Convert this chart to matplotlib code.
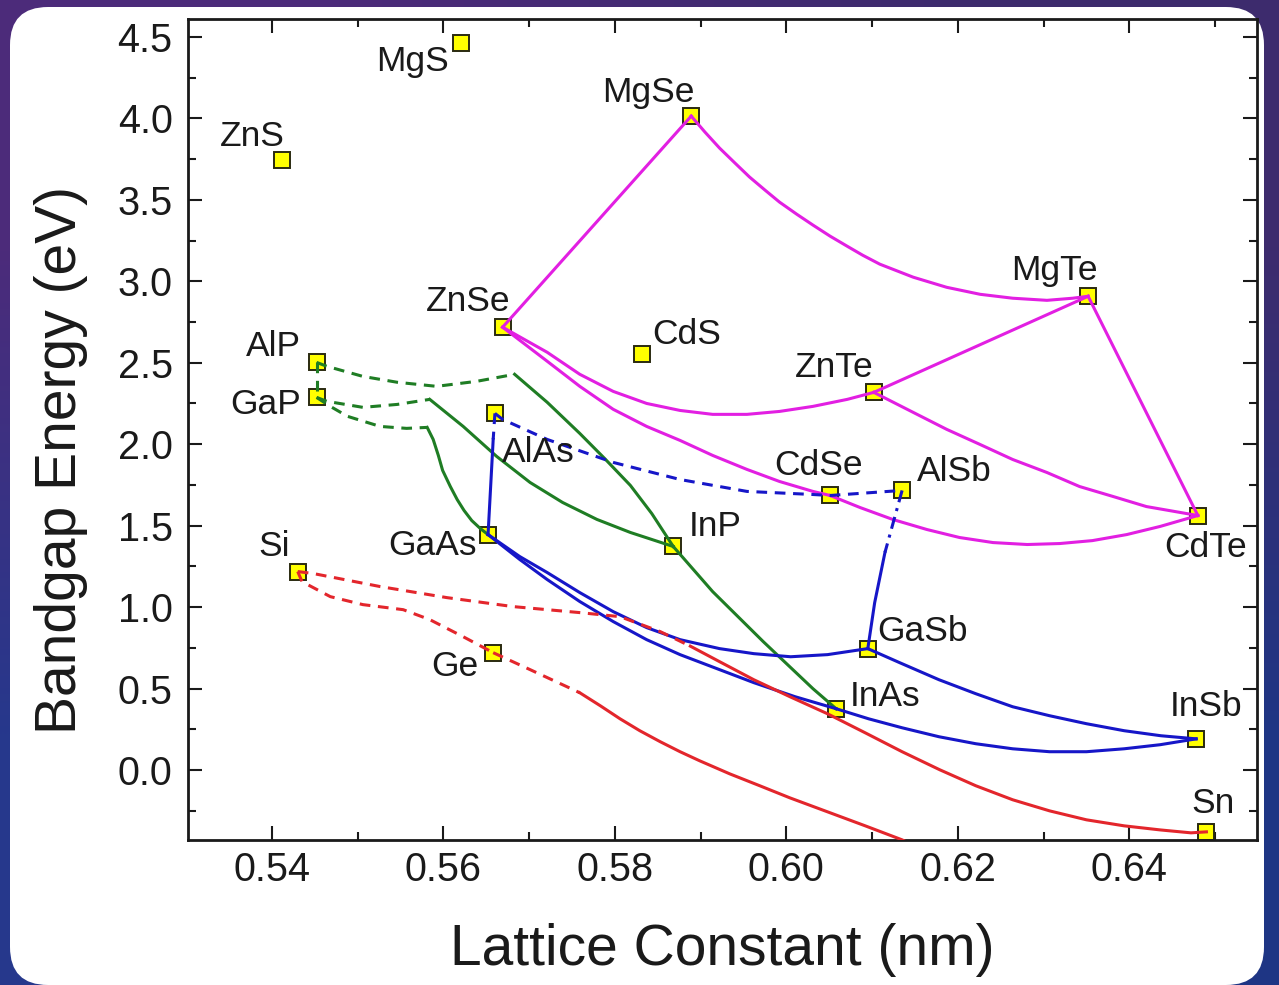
import matplotlib.pyplot as plt
import numpy as np
from matplotlib.patches import FancyBboxPatch
from matplotlib.ticker import MultipleLocator

plt.rcParams['font.family'] = ['Liberation Sans', 'DejaVu Sans']

# compounds: lattice constant (nm) and bandgap (eV)
names = ['ZnS', 'MgS', 'MgSe', 'ZnSe', 'CdS', 'MgTe', 'ZnTe', 'CdSe', 'AlSb', 'CdTe',
         'AlP', 'GaP', 'AlAs', 'GaAs', 'InP', 'Si', 'Ge', 'GaSb', 'InAs', 'InSb', 'Sn']
lattice = [0.5412, 0.5620, 0.5889, 0.5669, 0.5832, 0.6352, 0.6102, 0.6051, 0.6135, 0.6480,
           0.5452, 0.5452, 0.5660, 0.5652, 0.5868, 0.5430, 0.5658, 0.6095, 0.6058, 0.6478, 0.6490]
bandgap = [3.744, 4.463, 4.014, 2.718, 2.552, 2.908, 2.318, 1.685, 1.716, 1.562,
           2.502, 2.287, 2.189, 1.445, 1.372, 1.218, 0.720, 0.745, 0.376, 0.191, -0.380]

# II-VI alloys (magenta)
znse_mgse_x = [0.5669, 0.5889]
znse_mgse_y = [2.718, 4.014]
mgse_mgte_x = [0.5889, 0.5905, 0.5922, 0.5940, 0.5957, 0.5975, 0.5992, 0.6012, 0.6031, 0.6051,
               0.6071, 0.6089, 0.6109, 0.6148, 0.6187, 0.6226, 0.6264, 0.6304, 0.6334, 0.6352]
mgse_mgte_y = [4.014, 3.916, 3.818, 3.726, 3.640, 3.560, 3.486, 3.412, 3.345, 3.277,
               3.215, 3.160, 3.105, 3.025, 2.963, 2.920, 2.896, 2.883, 2.896, 2.908]
znse_znte_x = [0.5669, 0.5721, 0.5759, 0.5798, 0.5837, 0.5876, 0.5914, 0.5954, 0.5992, 0.6031, 0.6071, 0.6102]
znse_znte_y = [2.718, 2.564, 2.429, 2.324, 2.250, 2.207, 2.183, 2.183, 2.201, 2.232, 2.275, 2.318]
znse_cdse_x = [0.5669, 0.5721, 0.5759, 0.5798, 0.5837, 0.5876, 0.5914, 0.5954, 0.5992, 0.6031, 0.6051]
znse_cdse_y = [2.718, 2.509, 2.355, 2.214, 2.109, 2.023, 1.931, 1.845, 1.771, 1.710, 1.685]
cdse_cdte_x = [0.6051, 0.6086, 0.6124, 0.6164, 0.6202, 0.6241, 0.6281, 0.6319, 0.6357, 0.6397, 0.6436, 0.6480]
cdse_cdte_y = [1.685, 1.611, 1.538, 1.476, 1.427, 1.396, 1.384, 1.390, 1.408, 1.445, 1.495, 1.562]
znte_cdte_x = [0.6102, 0.6148, 0.6187, 0.6226, 0.6264, 0.6304, 0.6342, 0.6381, 0.6420, 0.6480]
znte_cdte_y = [2.318, 2.195, 2.091, 1.998, 1.906, 1.826, 1.740, 1.679, 1.617, 1.562]
znte_mgte_x = [0.6102, 0.6352]
znte_mgte_y = [2.318, 2.908]
mgte_cdte_x = [0.6352, 0.6480]
mgte_cdte_y = [2.908, 1.562]

# phosphides (green)
alp_gap_x = [0.5452, 0.5452]
alp_gap_y = [2.502, 2.287]
alp_inp_dash_x = [0.5452, 0.5464, 0.5506, 0.5546, 0.5592, 0.5639, 0.5683]
alp_inp_dash_y = [2.502, 2.478, 2.416, 2.380, 2.355, 2.386, 2.429]
alp_inp_x = [0.5683, 0.5721, 0.5759, 0.5788, 0.5818, 0.5843, 0.5868]
alp_inp_y = [2.429, 2.257, 2.066, 1.912, 1.747, 1.574, 1.372]
gap_inp_dash_x = [0.5452, 0.5464, 0.5506, 0.5546, 0.5584]
gap_inp_dash_y = [2.287, 2.263, 2.226, 2.244, 2.275]
gap_inp_x = [0.5584, 0.5623, 0.5662, 0.5701, 0.5739, 0.5779, 0.5818, 0.5868]
gap_inp_y = [2.275, 2.109, 1.925, 1.765, 1.642, 1.538, 1.458, 1.372]
gap_gaas_dash_x = [0.5452, 0.5468, 0.5488, 0.5526, 0.5557, 0.5581]
gap_gaas_dash_y = [2.287, 2.232, 2.171, 2.109, 2.097, 2.103]
gap_gaas_x = [0.5581, 0.5588, 0.5594, 0.5599, 0.5608, 0.5616, 0.5624, 0.5633, 0.5643, 0.5652]
gap_gaas_y = [2.103, 2.029, 1.931, 1.839, 1.740, 1.660, 1.593, 1.531, 1.482, 1.445]
inp_inas_x = [0.5868, 0.5914, 0.5973, 0.6031, 0.6058]
inp_inas_y = [1.372, 1.095, 0.788, 0.499, 0.376]

# arsenides / antimonides (blue)
alas_gaas_dash_x = [0.5660, 0.5658]
alas_gaas_dash_y = [2.189, 2.029]
alas_gaas_x = [0.5658, 0.5652]
alas_gaas_y = [2.029, 1.445]
alas_alsb_x = [0.5660, 0.5669, 0.5721, 0.5798, 0.5876, 0.5954, 0.6031, 0.6051, 0.6135]
alas_alsb_y = [2.189, 2.152, 2.029, 1.888, 1.783, 1.710, 1.691, 1.685, 1.716]
alsb_gasb_dd_x = [0.6135, 0.6115]
alsb_gasb_dd_y = [1.716, 1.335]
alsb_gasb_x = [0.6115, 0.6103, 0.6095]
alsb_gasb_y = [1.335, 1.027, 0.745]
gaas_gasb_x = [0.5652, 0.5689, 0.5721, 0.5759, 0.5798, 0.5837, 0.5876, 0.5922, 0.5962, 0.6005, 0.6048, 0.6095]
gaas_gasb_y = [1.445, 1.310, 1.212, 1.089, 0.972, 0.874, 0.800, 0.745, 0.714, 0.695, 0.708, 0.745]
gaas_inas_x = [0.5652, 0.5689, 0.5721, 0.5759, 0.5798, 0.5837, 0.5876, 0.5922, 0.5962, 0.6010, 0.6058]
gaas_inas_y = [1.445, 1.292, 1.169, 1.034, 0.911, 0.800, 0.708, 0.616, 0.536, 0.450, 0.376]
gasb_insb_x = [0.6095, 0.6132, 0.6178, 0.6221, 0.6264, 0.6307, 0.6350, 0.6394, 0.6437, 0.6478]
gasb_insb_y = [0.745, 0.659, 0.554, 0.468, 0.388, 0.333, 0.284, 0.241, 0.210, 0.191]
inas_insb_x = [0.6058, 0.6096, 0.6135, 0.6178, 0.6221, 0.6264, 0.6307, 0.6350, 0.6394, 0.6436, 0.6478]
inas_insb_y = [0.376, 0.314, 0.259, 0.204, 0.161, 0.130, 0.112, 0.112, 0.130, 0.155, 0.191]

# group IV (red)
si_sn_dash_x = [0.5430, 0.5448, 0.5526, 0.5604, 0.5681, 0.5759, 0.5806, 0.5853, 0.5888]
si_sn_dash_y = [1.218, 1.206, 1.126, 1.058, 1.003, 0.966, 0.941, 0.849, 0.760]
si_sn_x = [0.5888, 0.5922, 0.5962, 0.6004, 0.6048, 0.6092, 0.6135, 0.6179, 0.6221, 0.6264,
           0.6307, 0.6350, 0.6394, 0.6436, 0.6472, 0.6490]
si_sn_y = [0.760, 0.665, 0.554, 0.450, 0.345, 0.228, 0.112, 0.001, -0.097, -0.183,
           -0.251, -0.306, -0.343, -0.368, -0.386, -0.380]
si_ge_x = [0.5430, 0.5435, 0.5468, 0.5506, 0.5553, 0.5584, 0.5623, 0.5658]
si_ge_y = [1.218, 1.156, 1.064, 1.015, 0.984, 0.923, 0.818, 0.720]
ge_sn_dash_x = [0.5658, 0.5701, 0.5744, 0.5759]
ge_sn_dash_y = [0.720, 0.616, 0.511, 0.474]
ge_sn_x = [0.5759, 0.5783, 0.5806, 0.5829, 0.5853, 0.5876, 0.5899, 0.5934, 0.5969, 0.6004,
           0.6048, 0.6092, 0.6135, 0.6162]
ge_sn_y = [0.474, 0.394, 0.314, 0.241, 0.173, 0.112, 0.056, -0.024, -0.097, -0.171,
           -0.257, -0.343, -0.429, -0.497]

MAGENTA = '#e21fe2'
GREEN = '#1f7d24'
BLUE = '#1616c8'
RED = '#e3262c'
DASH = (0, (3.5, 2.5))
DASHDOT = (0, (4, 2, 1, 2))

curves = [
    (znse_mgse_x, znse_mgse_y, MAGENTA, '-'),
    (mgse_mgte_x, mgse_mgte_y, MAGENTA, '-'),
    (znse_znte_x, znse_znte_y, MAGENTA, '-'),
    (znse_cdse_x, znse_cdse_y, MAGENTA, '-'),
    (cdse_cdte_x, cdse_cdte_y, MAGENTA, '-'),
    (znte_cdte_x, znte_cdte_y, MAGENTA, '-'),
    (znte_mgte_x, znte_mgte_y, MAGENTA, '-'),
    (mgte_cdte_x, mgte_cdte_y, MAGENTA, '-'),
    (alp_gap_x, alp_gap_y, GREEN, DASH),
    (alp_inp_dash_x, alp_inp_dash_y, GREEN, DASH),
    (alp_inp_x, alp_inp_y, GREEN, '-'),
    (gap_inp_dash_x, gap_inp_dash_y, GREEN, DASH),
    (gap_inp_x, gap_inp_y, GREEN, '-'),
    (gap_gaas_dash_x, gap_gaas_dash_y, GREEN, DASH),
    (gap_gaas_x, gap_gaas_y, GREEN, '-'),
    (inp_inas_x, inp_inas_y, GREEN, '-'),
    (alas_gaas_dash_x, alas_gaas_dash_y, BLUE, DASH),
    (alas_gaas_x, alas_gaas_y, BLUE, '-'),
    (alas_alsb_x, alas_alsb_y, BLUE, DASH),
    (alsb_gasb_dd_x, alsb_gasb_dd_y, BLUE, DASHDOT),
    (alsb_gasb_x, alsb_gasb_y, BLUE, '-'),
    (gaas_gasb_x, gaas_gasb_y, BLUE, '-'),
    (gaas_inas_x, gaas_inas_y, BLUE, '-'),
    (gasb_insb_x, gasb_insb_y, BLUE, '-'),
    (inas_insb_x, inas_insb_y, BLUE, '-'),
    (si_sn_dash_x, si_sn_dash_y, RED, DASH),
    (si_sn_x, si_sn_y, RED, '-'),
    (si_ge_x, si_ge_y, RED, DASH),
    (ge_sn_dash_x, ge_sn_dash_y, RED, DASH),
    (ge_sn_x, ge_sn_y, RED, '-'),
]

# label offsets from the marker, in points
label_offsets = {
    'ZnS': (-21.6, 17.3), 'MgS': (-34.6, -13.7), 'MgSe': (-31, 17.3), 'ZnSe': (-24.5, 18.7),
    'CdS': (31.7, 14.4), 'MgTe': (-24.5, 18.7), 'ZnTe': (-28.8, 18), 'CdSe': (-8.6, 21.6),
    'AlSb': (37.4, 13.7), 'CdTe': (5.8, -23), 'AlP': (-31, 11.5), 'GaP': (-36.7, -5),
    'AlAs': (31, -28), 'GaAs': (-40.3, -7.9), 'InP': (30.2, 14.4), 'Si': (-17.3, 18),
    'Ge': (-27.4, -10), 'GaSb': (39.6, 12.2), 'InAs': (35.3, 8.6), 'InSb': (7.2, 23),
    'Sn': (5, 20.2),
}

fig = plt.figure(figsize=(12.79, 9.85), dpi=100)

# slide background: gradient with a white rounded card
bg = fig.add_axes([0, 0, 1, 1], zorder=-10)
bg.set_xlim(0, 1279)
bg.set_ylim(0, 985)
bg.axis('off')
grad = np.array([[[0.30, 0.17, 0.48], [0.24, 0.17, 0.43]],
                 [[0.15, 0.22, 0.55], [0.12, 0.21, 0.52]]])
bg.imshow(grad, extent=(0, 1279, 0, 985), interpolation='bilinear', aspect='auto')
bg.add_patch(FancyBboxPatch((10, 0), 1254, 978, boxstyle='round,pad=0,rounding_size=38',
                            facecolor='white', edgecolor='none'))

ax = fig.add_axes([0.147, 0.1472, 0.8358, 0.8335])
ax.set_facecolor('white')

ax.plot(lattice, bandgap, linestyle='none', marker='s', markersize=12,
        markerfacecolor='#ffff00', markeredgecolor='#2a2a10', markeredgewidth=1.4, zorder=2)

for x, y, color, ls in curves:
    ax.plot(x, y, color=color, linestyle=ls, linewidth=2.2, zorder=3,
            solid_joinstyle='round', dash_joinstyle='round')

for name, x, y in zip(names, lattice, bandgap):
    dx, dy = label_offsets[name]
    ax.annotate(name, (x, y), xytext=(dx, dy), textcoords='offset points',
                ha='center', va='center', fontsize=25.5, color='#1a1a1a', zorder=4)

ax.set_xlim(0.5302, 0.6549)
ax.set_ylim(-0.43, 4.61)
ax.xaxis.set_minor_locator(MultipleLocator(0.01))
ax.yaxis.set_minor_locator(MultipleLocator(0.25))
ax.set_xticks([0.54, 0.56, 0.58, 0.60, 0.62, 0.64])
ax.set_xticklabels(['0.54', '0.56', '0.58', '0.60', '0.62', '0.64'])
ax.set_yticks([0.0, 0.5, 1.0, 1.5, 2.0, 2.5, 3.0, 3.5, 4.0, 4.5])
ax.set_yticklabels(['0.0', '0.5', '1.0', '1.5', '2.0', '2.5', '3.0', '3.5', '4.0', '4.5'])
ax.tick_params(which='both', direction='in', top=True, right=True, width=1.5, colors='#1a1a1a')
ax.tick_params(which='major', length=10)
ax.tick_params(which='minor', length=5.5)
ax.tick_params(axis='x', which='major', labelsize=28.5, pad=8)
ax.tick_params(axis='y', which='major', labelsize=28.5, pad=11)
for spine in ax.spines.values():
    spine.set_linewidth(2)
    spine.set_color('#1a1a1a')

ax.set_xlabel('Lattice Constant (nm)', fontsize=41, color='#1a1a1a', va='center')
ax.set_ylabel('Bandgap Energy (eV)', fontsize=41, color='#1a1a1a', va='center')
ax.xaxis.set_label_coords(0.5, -0.134)
ax.yaxis.set_label_coords(-0.119, 0.463)

fig.savefig('out.png', dpi=100)
